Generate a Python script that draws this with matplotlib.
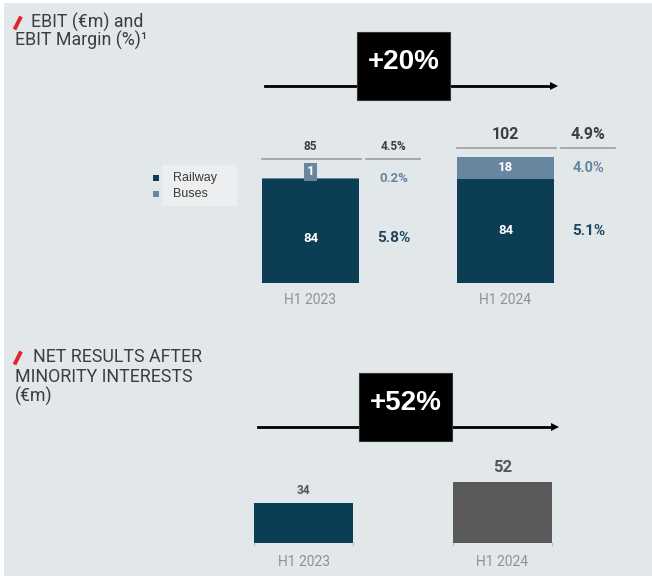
import matplotlib
matplotlib.use("Agg")
import matplotlib.pyplot as plt
from matplotlib.patches import Rectangle
from matplotlib.lines import Line2D

# ---------------- data ----------------
categories = ["H1 2023", "H1 2024"]
railway = [84, 84]
buses = [1, 18]
ebit_total = [85, 102]
margin_total = ["4.5%", "4.9%"]
margin_railway = ["5.8%", "5.1%"]
margin_buses = ["0.2%", "4.0%"]
ebit_growth = "+20%"

net_results = [34, 52]
net_growth = "+52%"

series_names = ["Railway", "Buses"]

# ---------------- style ----------------
W, H = 652, 576
BG = "#e2e7ea"
C_RAIL = "#0b3d55"
C_BUS = "#6886a0"
C_GRAY_BAR = "#5a5a5a"
C_TEXT = "#3d3d3d"
C_CAT = "#8d9296"
C_LINE = "#9a9ea2"
C_RED = "#e0252d"
FONT = "Roboto"

fig = plt.figure(figsize=(W / 100, H / 100), dpi=100)
fig.patch.set_facecolor("white")


def fx(px):
    return px / W


def fy(py):
    return 1 - py / H


# background panel (thin white border top/left)
fig.add_artist(Rectangle((fx(4), 0), 1 - fx(4), fy(3), transform=fig.transFigure,
                         facecolor=BG, edgecolor="none", zorder=0))

# ---------------- titles ----------------
def slash(x0, y0):
    fig.add_artist(Line2D([fx(x0), fx(x0 + 6.5)], [fy(y0), fy(y0 - 13)],
                          transform=fig.transFigure, color=C_RED, lw=2.8,
                          solid_capstyle="butt"))

TFS = 12.8
slash(14.5, 29.5)
fig.text(fx(31), fy(22.5), "EBIT (€m) and", fontsize=TFS, family=FONT,
         color=C_TEXT, va="center", ha="left")
fig.text(fx(15), fy(40.5), "EBIT Margin (%)¹", fontsize=TFS, family=FONT,
         color=C_TEXT, va="center", ha="left")

slash(14.5, 364.5)
fig.text(fx(33), fy(357.5), "NET RESULTS AFTER", fontsize=TFS, family=FONT,
         color=C_TEXT, va="center", ha="left")
fig.text(fx(15), fy(377.5), "MINORITY INTERESTS", fontsize=TFS, family=FONT,
         color=C_TEXT, va="center", ha="left")
fig.text(fx(15), fy(396), "(€m)", fontsize=TFS, family=FONT,
         color=C_TEXT, va="center", ha="left")


# ---------------- growth arrows ----------------
def growth_arrow(x0, x1, y, bx0, bx1, by0, by1, label):
    fig.add_artist(Line2D([fx(x0), fx(x1 - 6)], [fy(y), fy(y)], transform=fig.transFigure,
                          color="black", lw=2.0, zorder=2))
    fig.add_artist(Line2D([fx(x1 - 1)], [fy(y)], transform=fig.transFigure,
                          marker=">", markersize=6, color="black",
                          markeredgewidth=0, zorder=2))
    fig.add_artist(Rectangle((fx(bx0), fy(by1)), fx(bx1) - fx(bx0), fy(by0) - fy(by1),
                             transform=fig.transFigure, facecolor="black",
                             edgecolor="#333333", lw=0.8, zorder=3))
    fig.text(fx((bx0 + bx1) / 2), fy((by0 + by1) / 2 - 4), label, color="white",
             fontsize=20, fontweight="bold", family="Liberation Sans",
             ha="center", va="center", zorder=4)

growth_arrow(265, 555, 86, 357, 450, 32, 100, ebit_growth)
growth_arrow(258, 556, 427, 359, 452, 373, 441, net_growth)

# ---------------- top chart: EBIT ----------------
# pixel mapping: x_px = 310.5 + 195 * x ; y_px = 283 - 1.24 * y
ax1_l, ax1_r, ax1_t, ax1_b = 150, 640, 115, 283
ax1 = fig.add_axes([fx(ax1_l), fy(ax1_b), fx(ax1_r) - fx(ax1_l), fy(ax1_t) - fy(ax1_b)])
ax1.set_xlim((ax1_l - 310.5) / 195, (ax1_r - 310.5) / 195)
ax1.set_ylim(0, (ax1_b - ax1_t) / 1.24)
ax1.axis("off")
ax1.patch.set_alpha(0)

xs = list(range(len(categories)))
bw = 0.5
ax1.bar(xs, railway, width=bw, color=C_RAIL, zorder=2)
ax1.bar(xs, buses, width=bw, bottom=railway, color=C_BUS, zorder=2)
ax1.plot([xs[0] - bw / 2, xs[-1] + bw / 2], [0, 0], color="#b8bcbf", lw=0.8, zorder=1)

header_y = [100, 109]        # header line levels (style)
header_fs = [8.5, 11.5]
pct_off = 0.425
for i, x in enumerate(xs):
    r, b = railway[i], buses[i]
    # railway value
    ax1.text(x, r / 2 + (-6 if i == 0 else 0), str(r), color="white", fontsize=9.5,
             fontweight="bold", family=FONT, ha="center", va="center", zorder=3)
    # buses value
    if b < 5:
        ax1.text(x, r + 0.5, str(b), color="white", fontsize=9.5, fontweight="bold",
                 family=FONT, ha="center", va="bottom", zorder=4,
                 bbox=dict(boxstyle="square,pad=0.2", facecolor=C_BUS, edgecolor="none"))
    else:
        ax1.text(x, r + b / 2, str(b), color="white", fontsize=9.5, fontweight="bold",
                 family=FONT, ha="center", va="center", zorder=3)
    # header lines
    hy = header_y[i]
    ax1.plot([x - bw / 2, x + bw / 2 + 0.01], [hy, hy], color=C_LINE, lw=1.2)
    ax1.plot([x + pct_off - 0.14, x + pct_off + 0.135], [hy, hy], color=C_LINE, lw=1.2)
    ax1.annotate(str(ebit_total[i]), (x, hy), xytext=(0, 6), textcoords="offset pixels",
                 ha="center", va="bottom", fontsize=header_fs[i], fontweight="bold",
                 family=FONT, color=C_TEXT)
    ax1.annotate(margin_total[i], (x + pct_off, hy), xytext=(0, 6),
                 textcoords="offset pixels", ha="center", va="bottom",
                 fontsize=header_fs[i], fontweight="bold", family=FONT, color=C_TEXT)
    # margin labels
    ax1.text(x + pct_off, r / 2 + (-6 if i == 0 else 0), margin_railway[i], color="#1d4560",
             fontsize=11, fontweight="bold", family=FONT, ha="center", va="center")
    ax1.text(x + pct_off, r + max(b, 1) / 2, margin_buses[i], color=C_BUS,
             fontsize=9.5 if b < 5 else 10.5, fontweight="bold", family=FONT,
             ha="center", va="center")
    # category label
    ax1.annotate(categories[i], (x, 0), xytext=(0, -17), textcoords="offset pixels",
                 ha="center", va="center", fontsize=10, family=FONT, color=C_CAT)

# legend (manual)
fig.add_artist(Rectangle((fx(162), fy(206)), fx(237) - fx(162), fy(165) - fy(206),
                         transform=fig.transFigure, facecolor="#eceeef",
                         edgecolor="none", zorder=1))
for j, (name, col) in enumerate(zip(series_names, [C_RAIL, C_BUS])):
    yy = 178 + 16 * j
    fig.add_artist(Line2D([fx(156)], [fy(yy)], transform=fig.transFigure, marker="s",
                          markersize=4, color=col, markeredgewidth=0, zorder=2))
    fig.text(fx(173), fy(yy), name, fontsize=9, family="Liberation Sans",
             color="#3a3a3a", ha="left", va="center", zorder=2)

# ---------------- bottom chart: net results ----------------
# pixel mapping: x_px = 303.5 + 199 * x ; y_px = 543 - 1.18 * y
ax2_l, ax2_r, ax2_t, ax2_b = 240, 580, 455, 543
ax2 = fig.add_axes([fx(ax2_l), fy(ax2_b), fx(ax2_r) - fx(ax2_l), fy(ax2_t) - fy(ax2_b)])
ax2.set_xlim((ax2_l - 303.5) / 199, (ax2_r - 303.5) / 199)
ax2.set_ylim(0, (ax2_b - ax2_t) / 1.18)
ax2.axis("off")
ax2.patch.set_alpha(0)

ax2.bar(xs, net_results, width=bw, color=[C_RAIL, C_GRAY_BAR], zorder=2)
ax2.plot([xs[0] - bw / 2, xs[-1] + bw / 2], [0, 0], color="#b8bcbf", lw=0.8, zorder=1)
for x in xs:
    for e in (x - bw / 2, x + bw / 2):
        ax2.plot([e, e], [0, -2], color="#b8bcbf", lw=0.8, clip_on=False)
net_fs = [8.5, 12]
net_off = [6, 7]
for i, x in enumerate(xs):
    ax2.annotate(str(net_results[i]), (x, net_results[i]), xytext=(0, net_off[i]),
                 textcoords="offset pixels", ha="center", va="bottom",
                 fontsize=net_fs[i], fontweight="bold", family=FONT, color="#555555")
    ax2.annotate(categories[i], (x, 0), xytext=(0, -19), textcoords="offset pixels",
                 ha="center", va="center", fontsize=10, family=FONT, color=C_CAT)

fig.savefig("out.png", dpi=100, facecolor=fig.get_facecolor())
